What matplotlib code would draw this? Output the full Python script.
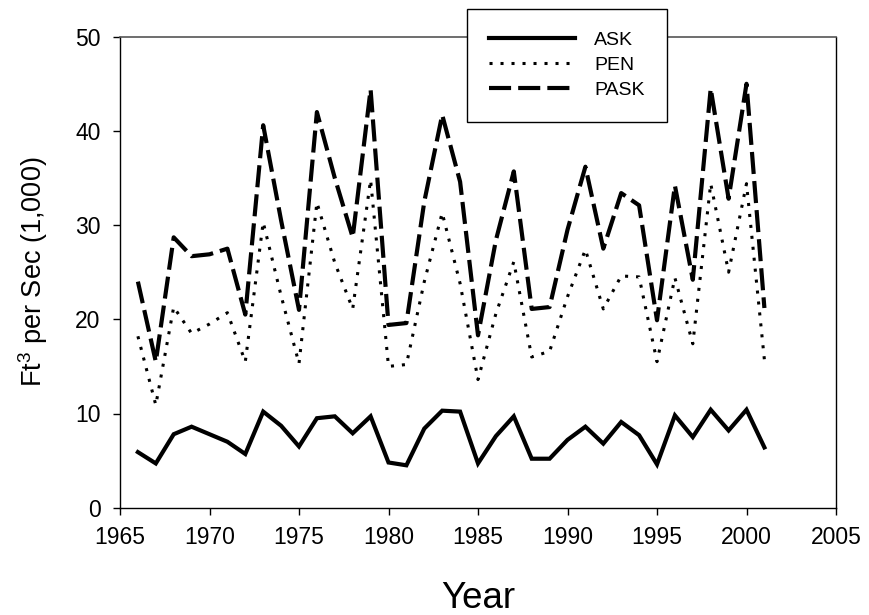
import numpy as np
import matplotlib
matplotlib.use("Agg")
import matplotlib.pyplot as plt

plt.rcParams['font.family'] = ['Liberation Sans', 'DejaVu Sans']
plt.rcParams['mathtext.fontset'] = 'custom'
plt.rcParams['mathtext.rm'] = 'Liberation Sans'
plt.rcParams['mathtext.it'] = 'Liberation Sans'
plt.rcParams['mathtext.default'] = 'regular'

years = np.arange(1966, 2002)

# flows in 1,000 ft3/s
ask = [5.9, 4.7, 7.8, 8.6, 7.8, 7.0, 5.7, 10.2, 8.7, 6.5,
       9.5, 9.7, 7.9, 9.7, 4.8, 4.5, 8.4, 10.3, 10.2, 4.7,
       7.6, 9.7, 5.2, 5.2, 7.2, 8.6, 6.8, 9.1, 7.7, 4.6,
       9.8, 7.5, 10.4, 8.2, 10.4, 6.4]
pen = [18.2, 10.9, 21.3, 18.5, 19.5, 20.7, 15.5, 30.3, 22.5, 15.3,
       32.4, 26.0, 21.1, 34.8, 15.0, 15.2, 24.0, 31.3, 23.8, 13.6,
       20.6, 26.1, 16.0, 16.6, 22.4, 27.4, 21.1, 24.6, 24.5, 15.5,
       24.4, 17.4, 34.4, 25.0, 34.4, 15.7]
pask = [24.0, 15.5, 28.7, 26.7, 26.9, 27.5, 20.5, 40.6, 30.5, 21.0,
        42.0, 35.0, 28.7, 44.4, 19.4, 19.6, 32.5, 41.7, 34.6, 18.3,
        28.4, 35.7, 21.1, 21.3, 29.5, 36.2, 27.5, 33.4, 32.1, 19.9,
        34.2, 24.2, 44.5, 32.8, 45.0, 21.2]

W, H = 869, 615
fig = plt.figure(figsize=(W / 100, H / 100), dpi=100)
ax = fig.add_axes([120 / W, 1 - 507.7 / H, (836 - 120) / W, (507.7 - 36.7) / H])

ax.plot(years, ask, color='black', lw=3, solid_joinstyle='miter', label='ASK')
ax.plot(years, pen, color='black', lw=2.2, linestyle=(0, (1, 2.6)), label='PEN')
ax.plot(years, pask, color='black', lw=3, linestyle=(0, (5.3, 1.7)), label='PASK')

ax.set_xlim(1965, 2005)
ax.set_ylim(0, 50)
ax.set_xticks(np.arange(1965, 2006, 5))
ax.set_yticks(np.arange(0, 51, 10))
ax.tick_params(direction='out', length=5, width=1, labelsize=16.5)
ax.tick_params(axis='x', pad=8)
ax.tick_params(axis='y', pad=9)

for s in ['left', 'bottom', 'right']:
    ax.spines[s].set_linewidth(1)
    ax.spines[s].set_color('black')
ax.spines['top'].set_linewidth(1.2)
ax.spines['top'].set_color('#555555')

fig.text(33 / W, 1 - 272 / H, 'Ft$^{3}$ per Sec (1,000)', rotation=90,
         ha='center', va='center', fontsize=19.5)
fig.text(478 / W, 1 - 608 / H, 'Year', ha='center', va='baseline', fontsize=26.5)

leg = ax.legend(loc='upper left', bbox_to_anchor=(466.7 / W, 1 - 9.3 / H),
                bbox_transform=fig.transFigure, borderaxespad=0,
                fontsize=14, handlelength=4.4, handletextpad=1.0,
                labelspacing=0.38, borderpad=1.15, fancybox=False,
                framealpha=1, edgecolor='black')
leg.get_frame().set_linewidth(1)
leg.set_zorder(5)

fig.savefig('out.png', dpi=100)
